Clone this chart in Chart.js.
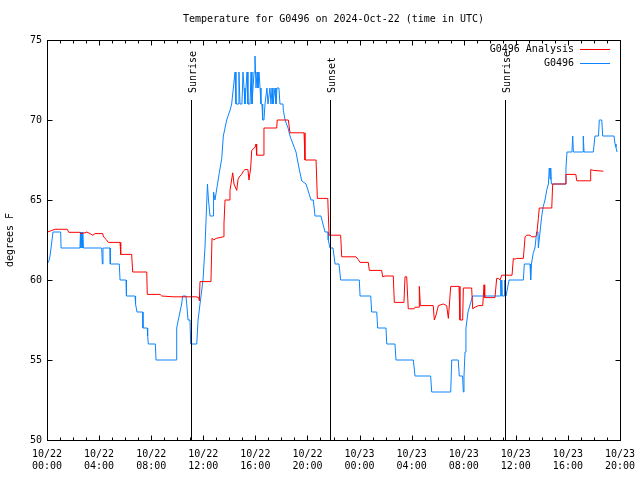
<!DOCTYPE html>
<html><head><meta charset="utf-8">
<script src="https://cdn.jsdelivr.net/npm/chart.js@4/dist/chart.umd.min.js"></script>
<style>html,body{margin:0;padding:0;background:#fff}#wrap{width:640px;height:480px}</style>
</head><body><div id="wrap"><canvas id="c" width="640" height="480"></canvas></div>
<script>
const titleText = 'Temperature for G0496 on 2024-Oct-22 (time in UTC)';
const yAxisLabel = 'degrees F';
const seriesNames = ['G0496 Analysis', 'G0496'];
const xTickLabels = [['10/22','00:00'],['10/22','04:00'],['10/22','08:00'],['10/22','12:00'],['10/22','16:00'],['10/22','20:00'],
                     ['10/23','00:00'],['10/23','04:00'],['10/23','08:00'],['10/23','12:00'],['10/23','16:00'],['10/23','20:00']];
const sunHours = [11.06, 21.73, 35.17];
const sunLabels = ['Sunrise', 'Sunset', 'Sunrise'];

// hours since 10/22 00:00 UTC
const analysisHours = [0,0.23,0.38,0.61,1.56,1.67,2.53,2.59,2.92,3.05,3.30,3.51,3.69,4.28,4.32,4.45,4.58,4.71,5.61,5.66,6.50,6.58,7.66,7.70,8.68,8.81,9.68,11.44,11.65,11.70,11.75,12.59,12.67,12.82,12.98,13.52,13.59,13.67,13.98,14.05,14.26,14.36,14.57,14.67,14.82,14.95,15.07,15.20,15.43,15.51,15.64,15.72,15.97,16.05,16.10,16.61,16.66,17.64,17.68,18.53,18.66,19.74,19.81,20.66,20.76,21.56,21.66,22.55,22.63,23.73,23.88,24.04,24.67,24.75,25.70,25.78,25.96,26.59,26.67,27.41,27.49,27.62,27.74,28.18,28.26,28.57,28.59,28.67,29.66,29.74,29.87,30.05,30.43,30.69,30.82,31.00,31.64,31.71,31.92,31.97,32.61,32.69,32.87,33.12,33.46,33.56,33.61,34.40,34.53,34.66,34.79,34.92,35.71,35.81,35.94,36.07,36.58,36.71,36.84,37.09,37.22,37.47,37.60,37.73,37.80,38.76,38.83,39.78,39.85,40.61,40.68,41.70,41.75,41.95,42.72];
const analysisTemps = [63.0,63.05,63.1,63.17,63.17,62.98,62.98,62.9,62.95,63.0,62.9,62.8,62.9,62.9,62.75,62.6,62.5,62.35,62.35,61.6,61.6,60.5,60.5,59.1,59.1,59.0,58.95,58.95,58.9,58.7,59.9,59.9,62.6,62.5,62.6,62.7,63.5,65,65,65.6,66.7,66,65.6,66.3,66.5,66.6,66.8,66.9,66.9,66.25,67,68.1,68.3,68.5,67.8,67.8,69.5,69.5,70,70,69.2,69.2,67.5,67.5,65.1,65.1,62.8,62.8,61.45,61.45,61.3,61.1,61.1,60.6,60.6,60.2,60.25,60.25,58.6,58.6,60.2,60.2,58.2,58.2,58.3,58.3,59.6,58.4,58.4,57.5,57.8,58.4,58.5,58.4,57.6,59.6,59.6,57.5,57.5,59.5,59.5,58.2,58.3,58.4,58.4,59.7,58.9,58.9,60.1,60.1,60.0,60.3,60.3,61.35,61.3,61.35,61.35,62.7,62.8,62.8,62.7,62.7,62.8,63.85,64.5,64.5,66.0,66.0,66.6,66.6,66.2,66.2,66.9,66.85,66.8];

const obsHours = [0,0.15,0.23,0.31,0.46,1.05,1.08,2.53,2.57,2.61,2.69,2.73,2.76,2.80,4.20,4.25,4.30,4.84,4.86,5.55,5.61,6.07,6.10,6.76,6.80,6.91,7.35,7.37,7.70,7.73,7.78,8.32,8.37,9.91,9.96,10.08,10.21,10.34,10.42,10.67,10.73,10.83,10.98,11.03,11.50,11.60,11.75,11.98,12.13,12.32,12.40,12.52,12.75,12.79,12.90,13.23,13.42,13.54,13.80,14.05,14.18,14.31,14.44,14.51,14.67,14.74,14.82,14.97,15.05,15.13,15.20,15.36,15.43,15.59,15.67,15.74,15.82,15.90,15.97,16.05,16.13,16.20,16.28,16.36,16.43,16.51,16.56,16.66,16.74,16.89,16.97,17.12,17.20,17.28,17.35,17.51,17.58,17.66,17.81,17.89,18.12,18.15,18.28,18.51,18.66,18.89,19.12,19.35,19.56,19.89,20.27,20.45,20.58,21.04,21.19,21.35,21.58,21.60,21.73,21.96,22.12,22.42,22.55,23.98,24.04,24.86,24.93,25.32,25.39,26.03,26.09,26.72,26.80,28.13,28.26,29.46,29.54,31.00,31.08,31.58,31.66,31.91,31.97,32.02,32.10,32.17,32.33,32.54,32.69,34.79,34.84,34.89,34.92,34.96,35.14,35.17,35.19,35.25,35.48,36.58,36.65,37.09,37.14,37.20,37.34,37.47,37.60,37.70,37.73,37.78,37.86,37.99,38.11,38.24,38.37,38.50,38.57,38.63,38.68,38.73,39.78,39.85,39.93,40.31,40.37,40.42,41.16,41.18,41.24,41.95,42.08,42.35,42.41,42.60,42.67,43.54,43.62,43.69,43.77];
const obsTemps = [61,61.2,61.5,62,63,63,62,62,63,62,63,62,63,62,62,61,62,62,61,61,60,60,59,59,58.5,58,58,57,57,56.5,56,56,55,55,57,57.5,58,58.5,59,59,58.5,57.5,57.5,56,56,57.5,58.5,60,62,66,65,64,64,65.5,65,66.7,67.6,69,70,70.6,71,72,73,71,71,73,71,71,73,72,71,73,71,71,73,71,72,73,74,72,73,72,73,72,71,71,70,70,71,72,71,72,71,72,71,72,71,72,72,71,71,70.6,70,69.5,69,68.5,68,67,66.2,66,65,65,64,64,63.5,63,63,62.5,62,62,61,61,60,60,59,59,58,58,57,57,56,56,55,55,54,54,53,53,55,55,54,54,53,54,55.5,57,58,58.6,59,59,60,59,60,59,59,60,59,59,60,60,61,61,60,61,61.7,62,63,63,62,62,63,64,64.6,65,65.6,66,67,66.3,67,66,66,67,68,68,69,68,68,69,68,68,69,69,70,70,69,69,68.5,68.3,68];

const FONT = {family: "'DejaVu Sans Mono', 'Liberation Mono', monospace", size: 10};
const FONTSTR = "10px 'DejaVu Sans Mono', 'Liberation Mono', monospace";
const RED = '#ff0000', BLUE = '#0a84ff';

const decor = {
  id: 'decor',
  afterDatasetsDraw(chart) {
    const ctx = chart.ctx, a = chart.chartArea, xs = chart.scales.x, ys = chart.scales.y;
    ctx.save();
    ctx.strokeStyle = '#000'; ctx.lineWidth = 1;
    const topY = a.top + 0.15 * (a.bottom - a.top);
    ctx.font = FONTSTR; ctx.fillStyle = '#000';
    sunHours.forEach((h, i) => {
      const x = Math.round(xs.getPixelForValue(h)) + 0.5;
      ctx.beginPath(); ctx.moveTo(x, Math.round(topY)); ctx.lineTo(x, a.bottom); ctx.stroke();
      ctx.save(); ctx.translate(x + 4, topY - 7); ctx.rotate(-Math.PI / 2);
      ctx.textAlign = 'left'; ctx.textBaseline = 'alphabetic';
      ctx.fillText(sunLabels[i], 0, 0); ctx.restore();
    });
    const L = Math.round(a.left) + 0.5, R = Math.round(a.right) + 0.5, T = Math.round(a.top) + 0.5, B = Math.round(a.bottom) + 0.5;
    ctx.strokeRect(L, T, R - L, B - T);
    ctx.beginPath();
    for (let h = 0; h <= 44; h++) {
      const x = Math.round(xs.getPixelForValue(h)) + 0.5;
      const len = (h % 4 === 0) ? 5 : 3;
      ctx.moveTo(x, B); ctx.lineTo(x, B - len);
      ctx.moveTo(x, T); ctx.lineTo(x, T + len);
    }
    for (let v = 50; v <= 75; v += 5) {
      const y = Math.round(ys.getPixelForValue(v)) + 0.5;
      ctx.moveTo(L, y); ctx.lineTo(L + 5, y);
      ctx.moveTo(R, y); ctx.lineTo(R - 5, y);
    }
    ctx.stroke();
    ctx.textAlign = 'right'; ctx.textBaseline = 'middle';
    [[seriesNames[0], RED], [seriesNames[1], BLUE]].forEach((s, i) => {
      const y = a.top + 9 + i * 14;
      ctx.fillStyle = '#000'; ctx.fillText(s[0], a.right - 46, y);
      ctx.strokeStyle = s[1]; ctx.beginPath(); ctx.moveTo(a.right - 40, Math.round(y) + 0.5); ctx.lineTo(a.right - 10, Math.round(y) + 0.5); ctx.stroke();
    });
    ctx.fillStyle = '#000'; ctx.textAlign = 'center'; ctx.textBaseline = 'middle';
    ctx.fillText(titleText, (a.left + a.right) / 2, 19);
    ctx.save(); ctx.translate(10, (a.top + a.bottom) / 2); ctx.rotate(-Math.PI / 2);
    ctx.fillText(yAxisLabel, 0, 0); ctx.restore();
    ctx.restore();
  }
};

new Chart(document.getElementById('c'), {
  type: 'line',
  data: {
    datasets: [
      {label: seriesNames[0], data: analysisHours.map((h, i) => ({x: h, y: analysisTemps[i]})), borderColor: RED, borderWidth: 1, pointRadius: 0, tension: 0, fill: false},
      {label: seriesNames[1], data: obsHours.map((h, i) => ({x: h, y: obsTemps[i]})), borderColor: BLUE, borderWidth: 1, pointRadius: 0, tension: 0, fill: false}
    ]
  },
  options: {
    responsive: false, animation: false, devicePixelRatio: 1,
    layout: {padding: {top: 40, right: 20, left: 0, bottom: 0}},
    plugins: {legend: {display: false}, title: {display: false}, tooltip: {enabled: false}},
    scales: {
      x: {type: 'linear', min: 0, max: 44,
          grid: {display: false, drawTicks: false}, border: {display: false},
          ticks: {stepSize: 4, autoSkip: false, maxRotation: 0, color: '#000', font: FONT, padding: 8,
                  callback: v => xTickLabels[Math.round(v / 4)]},
          afterFit: s => { s.height = 40; s.paddingRight = 0; s.paddingLeft = 0; }},
      y: {min: 50, max: 75,
          grid: {display: false, drawTicks: false}, border: {display: false},
          ticks: {stepSize: 5, color: '#000', font: FONT, padding: 5},
          afterFit: s => { s.width = 47; s.paddingTop = 0; s.paddingBottom = 0; }}
    }
  },
  plugins: [decor]
});
</script></body></html>
